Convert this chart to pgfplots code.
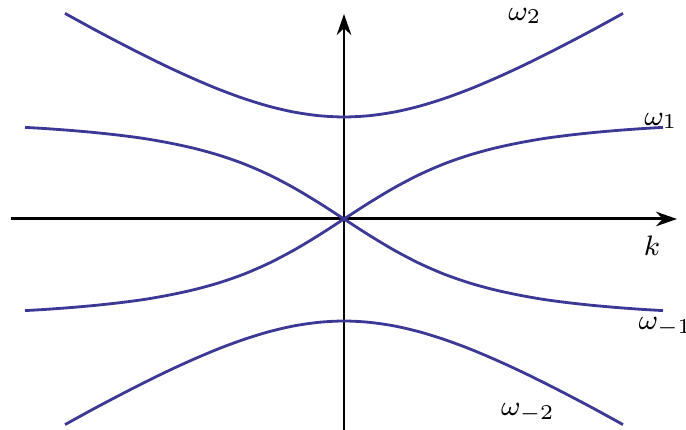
\documentclass[border=0pt]{standalone}
\usepackage{pgfplots}
\usepackage{pgfplotstable}
\pgfplotsset{compat=1.18}
\usetikzlibrary{arrows.meta}
\definecolor{branch}{RGB}{60,56,150}

% even branches (upper and lower gap modes)
\pgfplotstableread{
k      w
-2.79  2.056
-2.50  1.897
-2.25  1.765
-2.00  1.637
-1.75  1.515
-1.50  1.401
-1.25  1.296
-1.00  1.204
-0.75  1.127
-0.50  1.069
-0.25  1.033
 0.00  1.020
 0.25  1.033
 0.50  1.069
 0.75  1.127
 1.00  1.204
 1.25  1.296
 1.50  1.401
 1.75  1.515
 2.00  1.637
 2.25  1.765
 2.50  1.897
 2.79  2.056
}\upper

% odd branches crossing at the origin
\pgfplotstableread{
k      w
-3.19 -0.916
-3.00 -0.905
-2.75 -0.887
-2.50 -0.865
-2.25 -0.838
-2.00 -0.805
-1.75 -0.761
-1.50 -0.707
-1.25 -0.638
-1.00 -0.551
-0.75 -0.442
-0.50 -0.311
-0.25 -0.161
 0.00  0.000
 0.25  0.161
 0.50  0.311
 0.75  0.442
 1.00  0.551
 1.25  0.638
 1.50  0.707
 1.75  0.761
 2.00  0.805
 2.25  0.838
 2.50  0.865
 2.75  0.887
 3.00  0.905
 3.19  0.916
}\middlebranch

\begin{document}
\begin{tikzpicture}
\begin{axis}[
  scale only axis,
  width=6.66cm, height=4.16cm,
  xmin=-3.33, xmax=3.33,
  ymin=-2.11, ymax=2.05,
  axis lines=middle,
  axis line style={line width=0.85pt, -{Stealth[length=2.1mm,width=1.45mm]}},
  xtick=\empty, ytick=\empty,
  clip=false,
  every axis plot post/.append style={branch, line width=0.8pt, smooth, mark=none},
  font=\fontsize{8.3}{10}\selectfont,
]
\addplot table[x=k, y=w] {\upper};
\addplot table[x=k, y expr=-\thisrow{w}] {\upper};
\addplot table[x=k, y=w] {\middlebranch};
\addplot table[x=k, y expr=-\thisrow{w}] {\middlebranch};

\node at (axis cs:1.81,2.03) {$\omega_2$};
\node at (axis cs:3.17,0.98) {$\omega_1$};
\node at (axis cs:3.08,-0.27) {$k$};
\node at (axis cs:3.215,-1.08) {$\omega_{-1}$};
\node at (axis cs:1.84,-1.94) {$\omega_{-2}$};

\coordinate (bl) at (axis cs:-3.44,-2.11);
\coordinate (tr) at (axis cs:3.42,2.19);
\end{axis}
\pgfresetboundingbox
\path[use as bounding box] (bl) rectangle (tr);
\end{tikzpicture}
\end{document}
